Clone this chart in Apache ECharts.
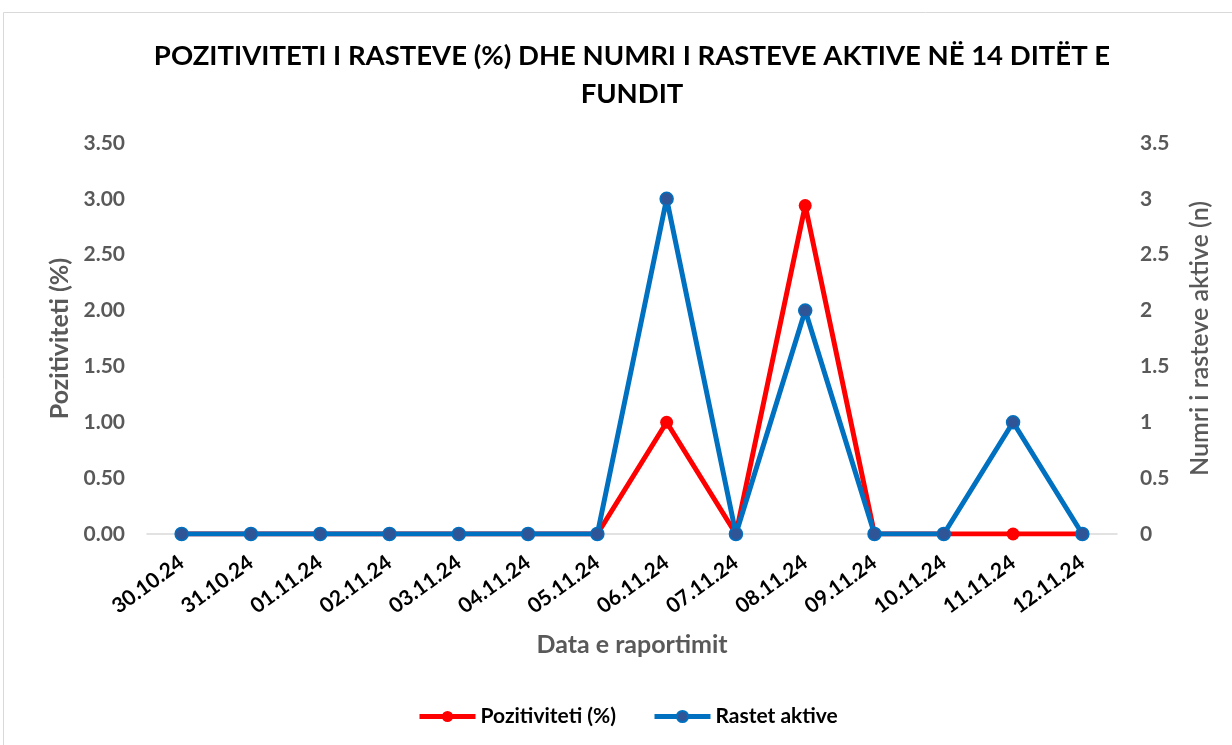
<!DOCTYPE html>
<html>
<head>
<meta charset="utf-8">
<script src="https://cdn.jsdelivr.net/npm/echarts@6/dist/echarts.min.js"></script>
<style>
  html, body { margin: 0; padding: 0; background: #fff; }
  #chart { width: 1232px; height: 745px; }
</style>
</head>
<body>
<div id="chart"></div>
<script>
// te dhenat
const dates = ["30.10.24", "31.10.24", "01.11.24", "02.11.24", "03.11.24", "04.11.24", "05.11.24",
  "06.11.24", "07.11.24", "08.11.24", "09.11.24", "10.11.24", "11.11.24", "12.11.24"];
const pozitiviteti = [0, 0, 0, 0, 0, 0, 0, 1.0, 0, 2.94, 0, 0, 0, 0];
const rastetAktive = [0, 0, 0, 0, 0, 0, 0, 3, 0, 2, 0, 0, 1, 0];

const font = "Lato, 'Open Sans', sans-serif";

let myChart = echarts.init(document.getElementById("chart"));
myChart.setOption({
  animation: false,
  textStyle: { fontFamily: font },
  graphic: [
    {
      type: "rect",
      shape: { x: 3.5, y: 12.5, width: 1240, height: 760 },
      style: { fill: "none", stroke: "#d9d9d9", lineWidth: 1 },
    },
  ],
  title: {
    text: "POZITIVITETI I RASTEVE (%) DHE NUMRI I RASTEVE AKTIVE NË 14 DITËT E\nFUNDIT",
    left: 627,
    top: 32,
    textAlign: "center",
    textStyle: {
      fontFamily: font,
      fontSize: 27.5,
      fontWeight: "bold",
      color: "#000",
      lineHeight: 38,
    },
  },
  grid: { left: 147, right: 115, top: 143, bottom: 211 },
  legend: {
    bottom: 13,
    left: 412,
    itemWidth: 56,
    itemHeight: 14,
    itemGap: 36,
    lineStyle: { width: 5 },
    textStyle: { fontFamily: font, fontSize: 21, fontWeight: "bold", color: "#000" },
    data: ["Pozitiviteti (%)", "Rastet aktive"],
  },
  xAxis: {
    type: "category",
    data: dates,
    boundaryGap: true,
    name: "Data e raportimit",
    nameLocation: "middle",
    nameGap: 98,
    nameTextStyle: { fontSize: 25, fontWeight: "bold", color: "#595959" },
    axisLine: { lineStyle: { color: "#d9d9d9", width: 1.5 } },
    axisTick: { show: false },
    axisLabel: {
      rotate: 36,
      margin: 26,
      fontSize: 21,
      fontWeight: "bold",
      color: "#000",
      interval: 0,
    },
  },
  yAxis: [
    {
      type: "value",
      min: 0,
      max: 3.5,
      interval: 0.5,
      name: "Pozitiviteti (%)",
      nameLocation: "middle",
      nameGap: 75,
      nameTextStyle: { fontSize: 25, fontWeight: "bold", color: "#595959" },
      axisLine: { show: false },
      axisTick: { show: false },
      splitLine: { show: false },
      axisLabel: {
        margin: 22,
        fontSize: 21,
        fontWeight: "bold",
        color: "#595959",
        formatter: (v) => v.toFixed(2),
      },
    },
    {
      type: "value",
      min: 0,
      max: 3.5,
      interval: 0.5,
      name: "Numri i rasteve aktive (n)",
      nameLocation: "middle",
      nameGap: 70,
      nameRotate: 90,
      nameTextStyle: { fontSize: 25, fontWeight: 600, color: "#595959" },
      axisLine: { show: false },
      axisTick: { show: false },
      splitLine: { show: false },
      axisLabel: {
        margin: 23,
        fontSize: 21,
        fontWeight: "bold",
        color: "#595959",
      },
    },
  ],
  series: [
    {
      name: "Pozitiviteti (%)",
      type: "line",
      yAxisIndex: 0,
      data: pozitiviteti,
      symbol: "circle",
      symbolSize: 13,
      lineStyle: { color: "#ff0000", width: 5 },
      itemStyle: { color: "#ff0000" },
      z: 2,
    },
    {
      name: "Rastet aktive",
      type: "line",
      yAxisIndex: 1,
      data: rastetAktive,
      symbol: "circle",
      symbolSize: 13,
      lineStyle: { color: "#0070c0", width: 5 },
      itemStyle: { color: "#2f5597", borderColor: "#0070c0", borderWidth: 1.5 },
      z: 3,
    },
  ],
});
window.addEventListener("resize", function () {
  myChart.resize();
});
</script>
</body>
</html>
